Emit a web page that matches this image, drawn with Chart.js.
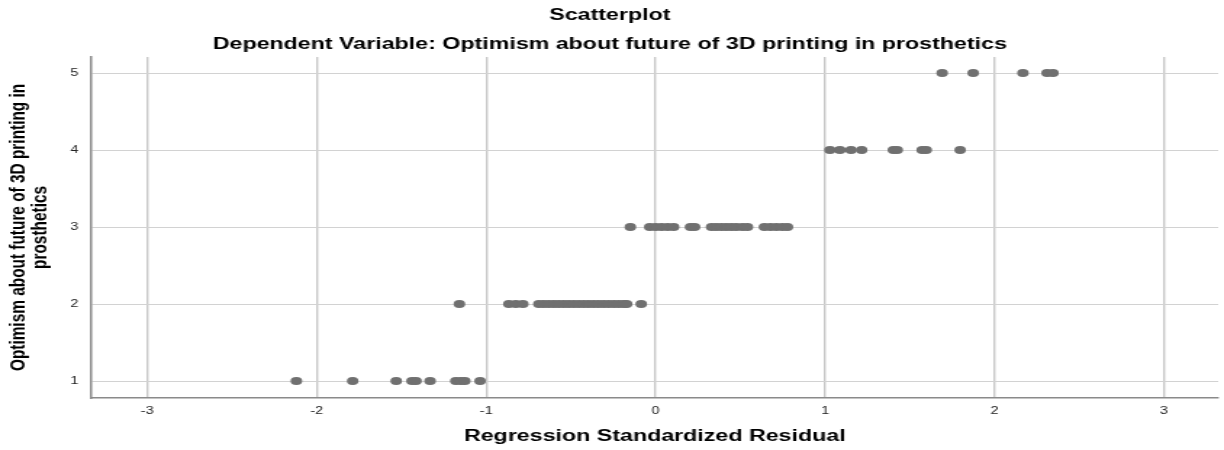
<!DOCTYPE html>
<html lang="en">

<head>
  <meta charset="UTF-8">
  <title>Scatterplot</title>
  <script src="https://cdn.jsdelivr.net/npm/chart.js"></script>
  <style>
    body {
      margin: 0;
      background: #fff;
      overflow: hidden;
    }

    /* chart is drawn narrow and stretched out sideways, like the exported SPSS plot */
    #myChart {
      display: block;
      transform: scaleX(1.4502);
      transform-origin: 0 0;
    }
  </style>
</head>

<body>
  <canvas id="myChart" width="844" height="450"></canvas>

  <script>
    // standardized residuals, one list per answer level (1..5)
    const residuals1 = [-2.120, -1.788, -1.531, -1.438, -1.414, -1.331, -1.179, -1.149, -1.126, -1.036];
    const residuals2 = [-1.158, -0.866, -0.825, -0.784, -0.689, -0.660, -0.631, -0.601, -0.572, -0.542, -0.513,
      -0.483, -0.454, -0.424, -0.395, -0.365, -0.336, -0.306, -0.277, -0.247, -0.218, -0.189, -0.171, -0.085];
    const residuals3 = [-0.149, -0.035, 0.000, 0.035, 0.071, 0.106, 0.206, 0.230, 0.330, 0.359, 0.389, 0.418,
      0.448, 0.477, 0.513, 0.542, 0.642, 0.678, 0.713, 0.748, 0.778];
    const residuals4 = [1.029, 1.088, 1.153, 1.216, 1.403, 1.426, 1.573, 1.597, 1.797];
    const residuals5 = [1.691, 1.874, 2.168, 2.310, 2.345];

    const levels = [1, 2, 3, 4, 5];
    const xTicks = [-3, -2, -1, 0, 1, 2, 3];
    const yTicks = [1, 2, 3, 4, 5];

    const points = [];
    [residuals1, residuals2, residuals3, residuals4, residuals5].forEach((list, i) => {
      list.forEach(r => points.push({ x: r, y: levels[i] }));
    });

    const fontFamily = 'Liberation Sans, Arial';

    const ctx = document.getElementById('myChart').getContext('2d');
    const myChart = new Chart(ctx, {
      type: 'scatter',
      data: {
        datasets: [{
          data: points,
          backgroundColor: '#707070',
          borderWidth: 0,
          pointRadius: 4,
          pointHoverRadius: 4
        }]
      },
      options: {
        responsive: false,
        animation: false,
        layout: { padding: { left: 0, right: 3, top: 0, bottom: 0 } },
        plugins: {
          legend: { display: false },
          tooltip: { enabled: false },
          title: {
            display: true,
            text: 'Scatterplot',
            color: '#000',
            font: { family: fontFamily, size: 16, weight: 'bold' },
            padding: { top: 5.5, bottom: 10.5 }
          },
          subtitle: {
            display: true,
            text: 'Dependent Variable: Optimism about future of 3D printing in prosthetics',
            color: '#000',
            font: { family: fontFamily, size: 16, weight: 'bold' },
            padding: { top: 0, bottom: 2.5 }
          }
        },
        scales: {
          x: {
            type: 'linear',
            min: -3.33,
            max: 3.32,
            afterBuildTicks: s => { s.ticks = xTicks.map(v => ({ value: v })); },
            afterFit: s => { s.height = 52; },
            grid: { color: '#c8c8c8', lineWidth: 1.4, drawTicks: false },
            border: { color: '#8a8a8a', width: 1.5 },
            ticks: {
              color: '#222',
              padding: 7,
              font: { family: fontFamily, size: 10 }
            },
            title: {
              display: true,
              text: 'Regression Standardized Residual',
              color: '#000',
              font: { family: fontFamily, size: 16, weight: 'bold' },
              padding: { top: 0, bottom: 3.5 }
            }
          },
          y: {
            min: 0.78,
            max: 5.21,
            afterBuildTicks: s => { s.ticks = yTicks.map(v => ({ value: v })); },
            afterFit: s => { s.width = 63; },
            grid: { color: '#d2d2d2', lineWidth: 1, drawTicks: false },
            border: { color: '#8a8a8a', width: 1.5 },
            ticks: {
              color: '#222',
              padding: 9,
              font: { family: fontFamily, size: 10 }
            },
            title: {
              display: true,
              text: ['Optimism about future of 3D printing in', 'prosthetics'],
              color: '#000',
              font: { family: fontFamily, size: 15.4, weight: 'bold', lineHeight: 0.99 },
              padding: { top: 4.8, bottom: 0 }
            }
          }
        }
      }
    });
  </script>
</body>

</html>
